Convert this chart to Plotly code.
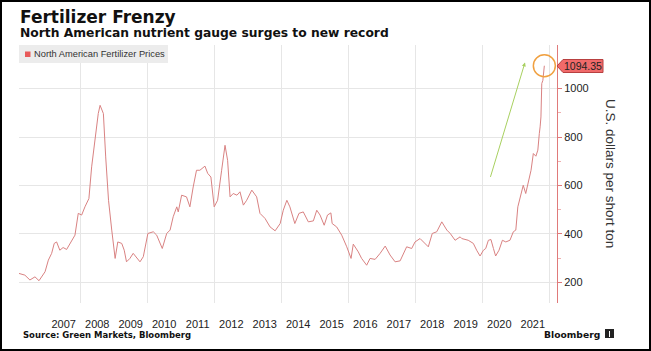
import plotly.graph_objects as go

dates = [
    "2006-03-01", "2006-05-04", "2006-06-28", "2006-08-22", "2006-10-05", "2006-12-10",
    "2007-01-15", "2007-02-20", "2007-03-20", "2007-04-15", "2007-05-20", "2007-06-25",
    "2007-08-02", "2007-09-06", "2007-11-01", "2007-12-07", "2008-01-13", "2008-02-18",
    "2008-04-01", "2008-05-01", "2008-06-06", "2008-07-12", "2008-08-01", "2008-09-06",
    "2008-10-01", "2008-11-01", "2008-12-06", "2009-01-12", "2009-02-10", "2009-03-25",
    "2009-04-21", "2009-05-16", "2009-06-22", "2009-07-28", "2009-10-10", "2009-11-15",
    "2010-01-04", "2010-03-04", "2010-04-10", "2010-06-10", "2010-07-28", "2010-09-03",
    "2010-10-07", "2010-11-15", "2010-12-01", "2011-01-07", "2011-03-01", "2011-04-07",
    "2011-05-13", "2011-06-18", "2011-07-25", "2011-09-18", "2011-10-18", "2011-11-22",
    "2011-12-28", "2012-02-03", "2012-03-18", "2012-04-24", "2012-05-22", "2012-06-18",
    "2012-07-22", "2012-09-01", "2012-10-04", "2012-11-10", "2012-12-16", "2013-02-10",
    "2013-04-04", "2013-05-10", "2013-07-04", "2013-08-28", "2013-10-22", "2013-12-16",
    "2014-01-19", "2014-02-27", "2014-04-01", "2014-05-25", "2014-07-09", "2014-08-25",
    "2014-10-19", "2014-12-13", "2015-01-19", "2015-02-24", "2015-04-10", "2015-05-16",
    "2015-06-22", "2015-07-06", "2015-08-24", "2015-10-18", "2015-12-12", "2016-01-16",
    "2016-01-28", "2016-02-21", "2016-04-16", "2016-05-22", "2016-07-16", "2016-08-22",
    "2016-10-16", "2016-12-10", "2017-02-03", "2017-03-28", "2017-05-22", "2017-07-16",
    "2017-09-25", "2017-11-19", "2017-12-25", "2018-02-18", "2018-04-13", "2018-05-19",
    "2018-07-01", "2018-08-19", "2018-10-13", "2018-12-07", "2019-01-13", "2019-03-07",
    "2019-05-01", "2019-05-19", "2019-07-28", "2019-09-22", "2019-10-28", "2019-12-04",
    "2020-01-10", "2020-02-04", "2020-03-04", "2020-04-01", "2020-04-28", "2020-05-22",
    "2020-06-28", "2020-08-04", "2020-09-10", "2020-10-25", "2020-12-01", "2020-12-28",
    "2021-01-19", "2021-02-12", "2021-03-19", "2021-04-15", "2021-05-13", "2021-06-12",
    "2021-07-07", "2021-08-04", "2021-08-25", "2021-09-01", "2021-09-10", "2021-09-19",
    "2021-09-28", "2021-10-07", "2021-10-19", "2021-11-04",
]
prices = [
    237, 230, 210, 223, 207, 244,
    292, 320, 361, 367, 333, 344,
    336, 361, 395, 485, 478, 512,
    546, 677, 800, 897, 931, 897,
    718, 539, 416, 299, 367, 361,
    333, 285, 299, 320, 285, 306,
    402, 409, 395, 340, 402, 416,
    471, 512, 491, 560, 553, 512,
    594, 663, 663, 680, 650, 635,
    512, 539, 663, 766, 704, 553,
    567, 560, 574, 519, 539, 581,
    553, 485, 464, 429, 413, 443,
    498, 539, 512, 443, 485, 491,
    450, 454, 498, 478, 436, 478,
    487, 443, 429, 395, 347, 306,
    299, 358, 326, 299, 271, 299,
    295, 320, 350, 313, 285, 289,
    347, 340, 367, 381, 361, 347,
    402, 409, 450, 416, 402, 374,
    388, 381, 374, 361, 333, 309,
    333, 340, 374, 377, 340, 309,
    333, 374, 367, 374, 409, 416,
    512, 553, 601, 567, 608, 663,
    732, 721, 746, 800, 814, 842,
    883, 1021, 1034, 1094.35,
]

year_labels = [str(y) for y in range(2007, 2022)]
year_label_pos = [f"{y}-07-01" for y in range(2007, 2022)]
grid_years = [f"{y}-01-01" for y in range(2008, 2023, 2)]
y_ticks = [200, 400, 600, 800, 1000]

series_name = "North American Fertilizer Prices"
last_label = "1094.35"

W, H = 651, 351
L, R, T, B = 19, 557, 45, 303


def px(x):
    return (x - L) / (R - L)


def py(y):
    return (B - y) / (B - T)


LINE = "#d98282"
AXRED = "#e07a7a"

fig = go.Figure()
fig.add_trace(go.Scatter(
    x=dates, y=prices, mode="lines",
    line=dict(color=LINE, width=1),
    name=series_name, showlegend=False, hoverinfo="skip",
))

fig.update_layout(
    width=W, height=H,
    margin=dict(l=L, r=W - R, t=T, b=H - B),
    paper_bgcolor="white", plot_bgcolor="white",
    showlegend=False,
    xaxis=dict(
        type="date",
        range=["2006-03-01", "2022-03-22"],
        tickmode="array", tickvals=year_label_pos, ticktext=year_labels,
        showgrid=False, zeroline=False, showline=False,
        ticks="outside", ticklen=11, tickcolor="rgba(0,0,0,0)",
        tickfont=dict(family="Liberation Sans", size=11, color="#222"),
        minor=dict(tickmode="array", tickvals=grid_years, showgrid=True,
                   gridcolor="#e6e6e6", gridwidth=1, ticks=""),
    ),
    yaxis=dict(
        side="right",
        range=[115, 1180],
        tickmode="array", tickvals=y_ticks,
        showgrid=True, gridcolor="#e6e6e6", gridwidth=1,
        zeroline=False,
        showline=True, linecolor=AXRED, linewidth=1,
        ticks="outside", ticklen=4, tickcolor=AXRED, tickwidth=1,
        tickfont=dict(family="Liberation Sans", size=11, color="#222"),
        minor=dict(dtick=100, tick0=100, ticks="outside", ticklen=3,
                   tickcolor="#eeb0b0", showgrid=False),
    ),
)

shapes = []
# outer frame
shapes.append(dict(type="rect", xref="paper", yref="paper",
                   x0=px(1), x1=px(650), y0=py(350), y1=py(1),
                   line=dict(color="black", width=2), fillcolor="rgba(0,0,0,0)"))
# legend box
shapes.append(dict(type="rect", xref="paper", yref="paper",
                   x0=px(19), x1=px(168), y0=py(63), y1=py(45),
                   line=dict(width=0), fillcolor="#ececec"))
shapes.append(dict(type="rect", xref="paper", yref="paper",
                   x0=px(25), x1=px(30.5), y0=py(57), y1=py(51.5),
                   line=dict(width=0), fillcolor="#e85a5a"))
# last value label pointer
path = (f"M {px(557)},{py(66)} L {px(563)},{py(59.5)} L {px(603)},{py(59.5)} "
        f"L {px(603)},{py(72.5)} L {px(563)},{py(72.5)} Z")
shapes.append(dict(type="path", xref="paper", yref="paper", path=path,
                   fillcolor="#f06a6a", line=dict(color="#b84040", width=1)))
# circle around last point
shapes.append(dict(type="circle", xref="x", yref="y",
                   xsizemode="pixel", ysizemode="pixel",
                   xanchor=dates[-1], yanchor=prices[-1],
                   x0=-11, x1=11, y0=-11, y1=11,
                   line=dict(color="#f0a040", width=1.5)))
# Bloomberg icon
shapes.append(dict(type="rect", xref="paper", yref="paper",
                   x0=px(605), x1=px(614), y0=py(338), y1=py(329),
                   line=dict(width=0), fillcolor="#222"))
shapes.append(dict(type="line", xref="paper", yref="paper",
                   x0=px(609.5), x1=px(609.5), y0=py(337), y1=py(331),
                   line=dict(color="white", width=1)))
fig.update_layout(shapes=shapes)

ann = []
ann.append(dict(text="<b>Fertilizer Frenzy</b>", xref="paper", yref="paper",
                x=px(18), y=py(16.5), xanchor="left", yanchor="middle", showarrow=False,
                font=dict(family="DejaVu Sans", size=17, color="#111")))
ann.append(dict(text="<b>North American nutrient gauge surges to new record</b>",
                xref="paper", yref="paper",
                x=px(18), y=py(33.5), xanchor="left", yanchor="middle", showarrow=False,
                font=dict(family="DejaVu Sans", size=12.3, color="#111")))
ann.append(dict(text=series_name, xref="paper", yref="paper",
                x=px(31.5), y=py(54.5), xanchor="left", yanchor="middle", showarrow=False,
                font=dict(family="Liberation Sans", size=9.3, color="#333")))
ann.append(dict(text=last_label, xref="paper", yref="paper",
                x=px(583), y=py(66), xanchor="center", yanchor="middle", showarrow=False,
                font=dict(family="Liberation Sans", size=10.5, color="#222")))
ann.append(dict(text="U.S. dollars per short ton", xref="paper", yref="paper",
                x=px(611), y=py(173), xanchor="center", yanchor="middle", showarrow=False,
                textangle=90,
                font=dict(family="Liberation Sans", size=13.5, color="#333")))
ann.append(dict(text="<b>Source: Green Markets, Bloomberg</b>", xref="paper", yref="paper",
                x=px(21), y=py(335), xanchor="left", yanchor="middle", showarrow=False,
                font=dict(family="DejaVu Sans", size=8.5, color="#111")))
ann.append(dict(text="<b>Bloomberg</b>", xref="paper", yref="paper",
                x=px(602), y=py(334), xanchor="right", yanchor="middle", showarrow=False,
                font=dict(family="DejaVu Sans", size=9.2, color="#111")))
# green trend arrow
ann.append(dict(text="", x="2021-04-07", y=1108, xref="x", yref="y",
                ax=-35, ay=116, showarrow=True, arrowhead=2, arrowsize=0.8,
                arrowwidth=1, arrowcolor="#a8d060"))
fig.update_layout(annotations=ann)

fig.write_html("out.html")
